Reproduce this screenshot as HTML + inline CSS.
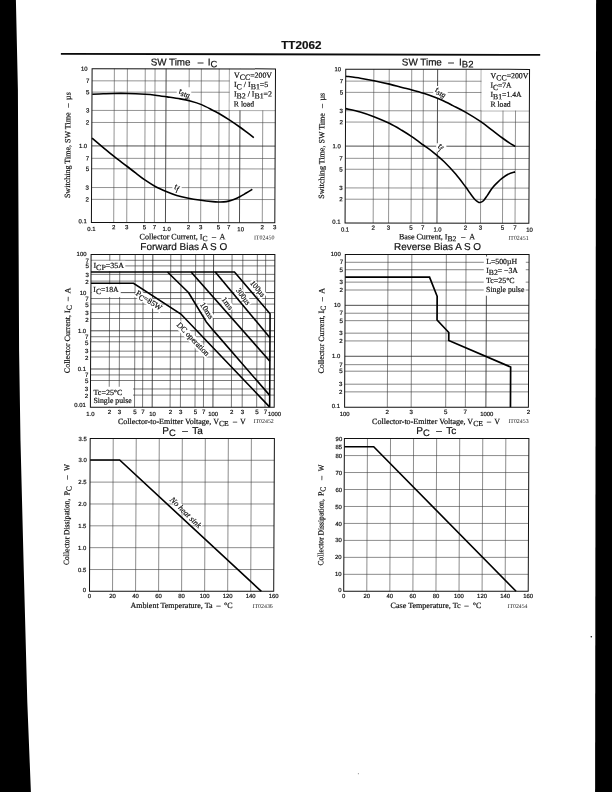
<!DOCTYPE html>
<html lang="en"><head><meta charset="utf-8"><title>TT2062</title>
<style>html,body{margin:0;padding:0;background:#fff}body{width:612px;height:792px;overflow:hidden}svg{display:block}text{fill:#111;white-space:pre}.a{font-family:'Liberation Sans', sans-serif;stroke:#111;stroke-width:.2px}.s{font-family:'Liberation Serif', serif;stroke:#111;stroke-width:.2px}.i{font-style:italic}.b{font-weight:bold}</style></head><body>
<svg width="612" height="792" viewBox="0 0 612 792">
<rect width="612" height="792" fill="#fff"/>
<polygon fill="#000" points="0,0 15.9,0 17.9,90 19.1,351 20.5,441 23.8,571 27.3,702 30.9,792 0,792"/>
<polygon fill="#000" points="596.1,0 612,0 612,792 595.1,792"/>
<circle cx="591.3" cy="636.7" r="0.8" fill="#111"/>
<circle cx="358.4" cy="773.7" r="0.6" fill="#999"/>
<text class="a" x="281.2" y="48.8" font-size="11.5" textLength="40.2" lengthAdjust="spacingAndGlyphs" font-weight="bold">TT2062</text>
<line x1="60.9" y1="53.9" x2="540.2" y2="54.9" stroke="#0a0a0a" stroke-width="1.9"/>
<g transform="matrix(1 0.00100 -0.00450 1 0.66 -0.18)">
<line x1="114.04" y1="68.8" x2="114.04" y2="222.6" stroke="#464646" stroke-width="0.58"/>
<line x1="127.07" y1="68.8" x2="127.07" y2="222.6" stroke="#464646" stroke-width="0.58"/>
<line x1="144.9" y1="68.8" x2="144.9" y2="222.6" stroke="#464646" stroke-width="0.58"/>
<line x1="154.72" y1="68.8" x2="154.72" y2="222.6" stroke="#464646" stroke-width="0.58"/>
<line x1="165.79" y1="68.8" x2="165.79" y2="222.6" stroke="#222" stroke-width="0.8"/>
<line x1="188.88" y1="68.8" x2="188.88" y2="222.6" stroke="#464646" stroke-width="0.58"/>
<line x1="201.01" y1="68.8" x2="201.01" y2="222.6" stroke="#464646" stroke-width="0.58"/>
<line x1="218.84" y1="68.8" x2="218.84" y2="222.6" stroke="#464646" stroke-width="0.58"/>
<line x1="229.06" y1="68.8" x2="229.06" y2="222.6" stroke="#464646" stroke-width="0.58"/>
<line x1="239.83" y1="68.8" x2="239.83" y2="222.6" stroke="#222" stroke-width="0.8"/>
<line x1="262.61" y1="68.8" x2="262.61" y2="222.6" stroke="#464646" stroke-width="0.58"/>
<line x1="91.75" y1="199.45" x2="275.15" y2="199.45" stroke="#464646" stroke-width="0.58"/>
<line x1="91.75" y1="187.61" x2="275.15" y2="187.61" stroke="#464646" stroke-width="0.58"/>
<line x1="91.75" y1="168.85" x2="275.15" y2="168.85" stroke="#464646" stroke-width="0.58"/>
<line x1="91.75" y1="158.41" x2="275.15" y2="158.41" stroke="#464646" stroke-width="0.58"/>
<line x1="91.75" y1="146" x2="275.15" y2="146" stroke="#222" stroke-width="0.8"/>
<line x1="91.75" y1="122.55" x2="275.15" y2="122.55" stroke="#464646" stroke-width="0.58"/>
<line x1="91.75" y1="110.51" x2="275.15" y2="110.51" stroke="#464646" stroke-width="0.58"/>
<line x1="91.75" y1="92.2" x2="275.15" y2="92.2" stroke="#464646" stroke-width="0.58"/>
<line x1="91.75" y1="80.91" x2="275.15" y2="80.91" stroke="#464646" stroke-width="0.58"/>
<rect x="229.46" y="68.8" width="45.69" height="41.31" fill="#fff"/>
<rect x="176.5" y="87.3" width="14.5" height="10.5" fill="#fff"/>
<rect x="172.6" y="182" width="9.3" height="9" fill="#fff"/>
<path d="M92 94.4 C93.83 94.32 99.37 94.05 103 93.9 C106.63 93.75 109.8 93.57 113.8 93.5 C117.8 93.43 121.8 93.37 127 93.5 C132.2 93.63 140.33 94.02 145 94.3 C149.67 94.58 151.33 94.77 155 95.2 C158.67 95.63 162.83 96.28 167 96.9 C171.17 97.52 176.17 98.22 180 98.9 C183.83 99.58 186.45 100.05 190 101 C193.55 101.95 197.47 103.03 201.3 104.6 C205.13 106.17 210.08 108.93 213 110.4 C215.92 111.87 216.17 111.87 218.8 113.4 C221.43 114.93 225.27 117.3 228.8 119.6 C232.33 121.9 236.97 125.07 240 127.2 C243.03 129.33 244.7 130.67 247 132.4 C249.3 134.13 252.67 136.73 253.8 137.6" fill="none" stroke="#000" stroke-width="1.6" stroke-linejoin="round" stroke-linecap="butt"/>
<path d="M92 138.2 C93.83 139.73 99.37 144.38 103 147.4 C106.63 150.42 109.8 153.15 113.8 156.3 C117.8 159.45 123.3 163.48 127 166.3 C130.7 169.12 133 170.92 136 173.2 C139 175.48 141.83 177.83 145 180 C148.17 182.17 151.33 184.25 155 186.2 C158.67 188.15 163.33 190.17 167 191.7 C170.67 193.23 173.58 194.35 177 195.4 C180.42 196.45 183.45 197.18 187.5 198 C191.55 198.82 197.05 199.7 201.3 200.3 C205.55 200.9 210.08 201.33 213 201.6 C215.92 201.87 216.97 201.87 218.8 201.9 C220.63 201.93 222.33 201.93 224 201.8 C225.67 201.67 227.13 201.5 228.8 201.1 C230.47 200.7 232.13 200.13 234 199.4 C235.87 198.67 238 197.73 240 196.7 C242 195.67 243.92 194.45 246 193.2 C248.08 191.95 251.42 189.87 252.5 189.2" fill="none" stroke="#000" stroke-width="1.6" stroke-linejoin="round" stroke-linecap="butt"/>
<rect x="91.75" y="68.8" width="183.4" height="153.8" fill="none" stroke="#111" stroke-width="1"/>
<text class="s" x="178.3" y="93.6" font-size="8.6" transform="rotate(12 178.3 93.6)" font-style="italic">t<tspan dy="1.8" font-size="7.6">stg</tspan></text>
<text class="s" x="174.2" y="189" font-size="8.6" transform="rotate(12 174.2 189)" font-style="italic">t<tspan dy="1.8" font-size="7.6">f</tspan></text>
<text class="s" x="233.7" y="77.6" font-size="7.8" textLength="38" lengthAdjust="spacingAndGlyphs">V<tspan dy="2.1">CC</tspan><tspan dy="-2.1">=200V</tspan></text>
<text class="s" x="233.7" y="87" font-size="7.8" textLength="34.3" lengthAdjust="spacingAndGlyphs">I<tspan dy="2.1">C</tspan><tspan dy="-2.1"> / I</tspan><tspan dy="2.1">B1</tspan><tspan dy="-2.1">=5</tspan></text>
<text class="s" x="233.7" y="96.4" font-size="7.8" textLength="38" lengthAdjust="spacingAndGlyphs">I<tspan dy="2.1">B2</tspan><tspan dy="-2.1"> / I</tspan><tspan dy="2.1">B1</tspan><tspan dy="-2.1">=2</tspan></text>
<text class="s" x="233.7" y="106.4" font-size="7.8" textLength="20.2" lengthAdjust="spacingAndGlyphs">R load</text>
<text class="a" x="87.15" y="223.41" font-size="5.9" text-anchor="end">0.1</text>
<text class="a" x="89.15" y="201.63" font-size="6.1" text-anchor="end">2</text>
<text class="a" x="89.15" y="189.79" font-size="6.1" text-anchor="end">3</text>
<text class="a" x="89.15" y="171.03" font-size="6.1" text-anchor="end">5</text>
<text class="a" x="89.15" y="160.6" font-size="6.1" text-anchor="end">7</text>
<text class="a" x="87.15" y="148.11" font-size="5.9" text-anchor="end">1.0</text>
<text class="a" x="89.15" y="124.73" font-size="6.1" text-anchor="end">2</text>
<text class="a" x="89.15" y="112.69" font-size="6.1" text-anchor="end">3</text>
<text class="a" x="89.15" y="94.38" font-size="6.1" text-anchor="end">5</text>
<text class="a" x="89.15" y="83.1" font-size="6.1" text-anchor="end">7</text>
<text class="a" x="87.15" y="70.91" font-size="5.9" text-anchor="end">10</text>
<text class="a" x="91.75" y="231.11" font-size="5.9" text-anchor="middle">0.1</text>
<text class="a" x="114.04" y="229.28" font-size="6.1" text-anchor="middle">2</text>
<text class="a" x="127.07" y="229.28" font-size="6.1" text-anchor="middle">3</text>
<text class="a" x="144.9" y="229.28" font-size="6.1" text-anchor="middle">5</text>
<text class="a" x="154.72" y="229.28" font-size="6.1" text-anchor="middle">7</text>
<text class="a" x="166.99" y="231.11" font-size="5.9" text-anchor="middle">1.0</text>
<text class="a" x="188.88" y="229.28" font-size="6.1" text-anchor="middle">2</text>
<text class="a" x="201.01" y="229.28" font-size="6.1" text-anchor="middle">3</text>
<text class="a" x="218.84" y="229.28" font-size="6.1" text-anchor="middle">5</text>
<text class="a" x="229.06" y="229.28" font-size="6.1" text-anchor="middle">7</text>
<text class="a" x="241.03" y="231.11" font-size="5.9" text-anchor="middle">10</text>
<text class="a" x="262.61" y="229.28" font-size="6.1" text-anchor="middle">2</text>
<text class="a" x="275.15" y="229.28" font-size="6.1" text-anchor="middle">3</text>
<text class="a" x="150.3" y="65.5" font-size="10" textLength="39.8" lengthAdjust="spacingAndGlyphs">SW Time</text>
<text class="a" x="197.3" y="65.5" font-size="10">–</text>
<text class="a" x="207.3" y="65.5" font-size="10">I<tspan dy="1.8" font-size="9.3">C</tspan></text>
<text class="s" x="140" y="239.2" font-size="8">Collector Current, I<tspan dy="1.7" font-size="7.6">C</tspan></text>
<text class="s" x="212.3" y="239.2" font-size="8">–</text>
<text class="s" x="219.8" y="239.2" font-size="8">A</text>
<text class="s" x="254.3" y="239.5" font-size="5.9" textLength="20.5" lengthAdjust="spacingAndGlyphs" style="stroke:none;fill:#1c1c1c">IT02450</text>
<g transform="rotate(-90 70.2 198.2)">
<text class="s" x="70.2" y="198.2" font-size="8" textLength="85.6" lengthAdjust="spacingAndGlyphs">Switching Time, SW Time</text>
<text class="s" x="160.9" y="198.2" font-size="8">–</text>
<text class="s" x="168.4" y="198.2" font-size="8">µs</text>
</g>
</g>
<g transform="matrix(1 0.00100 -0.00450 1 0.66 -0.44)">
<line x1="373.51" y1="69.3" x2="373.51" y2="223.1" stroke="#464646" stroke-width="0.58"/>
<line x1="388.9" y1="69.3" x2="388.9" y2="223.1" stroke="#464646" stroke-width="0.58"/>
<line x1="411.39" y1="69.3" x2="411.39" y2="223.1" stroke="#464646" stroke-width="0.58"/>
<line x1="423.06" y1="69.3" x2="423.06" y2="223.1" stroke="#464646" stroke-width="0.58"/>
<line x1="437.3" y1="69.3" x2="437.3" y2="223.1" stroke="#222" stroke-width="0.8"/>
<line x1="465.86" y1="69.3" x2="465.86" y2="223.1" stroke="#464646" stroke-width="0.58"/>
<line x1="480.85" y1="69.3" x2="480.85" y2="223.1" stroke="#464646" stroke-width="0.58"/>
<line x1="502.84" y1="69.3" x2="502.84" y2="223.1" stroke="#464646" stroke-width="0.58"/>
<line x1="515.36" y1="69.3" x2="515.36" y2="223.1" stroke="#464646" stroke-width="0.58"/>
<line x1="345.4" y1="199.3" x2="529.2" y2="199.3" stroke="#464646" stroke-width="0.58"/>
<line x1="345.4" y1="188.01" x2="529.2" y2="188.01" stroke="#464646" stroke-width="0.58"/>
<line x1="345.4" y1="169.35" x2="529.2" y2="169.35" stroke="#464646" stroke-width="0.58"/>
<line x1="345.4" y1="158.41" x2="529.2" y2="158.41" stroke="#464646" stroke-width="0.58"/>
<line x1="345.4" y1="146.2" x2="529.2" y2="146.2" stroke="#222" stroke-width="0.8"/>
<line x1="345.4" y1="122.15" x2="529.2" y2="122.15" stroke="#464646" stroke-width="0.58"/>
<line x1="345.4" y1="110.81" x2="529.2" y2="110.81" stroke="#464646" stroke-width="0.58"/>
<line x1="345.4" y1="92.45" x2="529.2" y2="92.45" stroke="#464646" stroke-width="0.58"/>
<line x1="345.4" y1="81.21" x2="529.2" y2="81.21" stroke="#464646" stroke-width="0.58"/>
<rect x="481.25" y="69.3" width="47.95" height="41.11" fill="#fff"/>
<rect x="433" y="86" width="14.5" height="13" fill="#fff"/>
<rect x="436.2" y="143.2" width="10.2" height="8.5" fill="#fff"/>
<path d="M345.6 76.3 C348 76.63 355.3 77.55 360 78.3 C364.7 79.05 368.93 79.82 373.8 80.8 C378.67 81.78 384.55 83.08 389.2 84.2 C393.85 85.32 397.95 86.53 401.7 87.5 C405.45 88.47 408.1 89.03 411.7 90 C415.3 90.97 419.7 92.17 423.3 93.3 C426.9 94.43 430.18 95.63 433.3 96.8 C436.42 97.97 438.77 98.83 442 100.3 C445.23 101.77 448.75 103.6 452.7 105.6 C456.65 107.6 461.03 109.63 465.7 112.3 C470.37 114.97 476.2 118.55 480.7 121.6 C485.2 124.65 489.03 127.83 492.7 130.6 C496.37 133.37 499.93 136.17 502.7 138.2 C505.47 140.23 507.22 141.45 509.3 142.8 C511.38 144.15 514.22 145.72 515.2 146.3" fill="none" stroke="#000" stroke-width="1.6" stroke-linejoin="round" stroke-linecap="butt"/>
<path d="M345.6 108.7 C348 109.25 355.3 110.67 360 112 C364.7 113.33 368.93 114.82 373.8 116.7 C378.67 118.58 384.55 121.03 389.2 123.3 C393.85 125.57 397.95 128.07 401.7 130.3 C405.45 132.53 408.1 134.25 411.7 136.7 C415.3 139.15 419.7 142.4 423.3 145 C426.9 147.6 429.85 149.55 433.3 152.3 C436.75 155.05 440.22 157.83 444 161.5 C447.78 165.17 452.38 170.08 456 174.3 C459.62 178.52 463.37 183.72 465.7 186.8 C468.03 189.88 468.47 190.73 470 192.8 C471.53 194.87 473.6 197.73 474.9 199.2 C476.2 200.67 476.9 201.05 477.8 201.6 C478.7 202.15 479.32 202.65 480.3 202.5 C481.28 202.35 482.48 201.9 483.7 200.7 C484.92 199.5 486.13 197.43 487.6 195.3 C489.07 193.17 490.85 190.03 492.5 187.9 C494.15 185.77 495.85 184.13 497.5 182.5 C499.15 180.87 500.62 179.48 502.4 178.1 C504.18 176.72 506.07 175.25 508.2 174.2 C510.33 173.15 514.03 172.2 515.2 171.8" fill="none" stroke="#000" stroke-width="1.6" stroke-linejoin="round" stroke-linecap="butt"/>
<rect x="345.4" y="69.3" width="183.8" height="153.8" fill="none" stroke="#111" stroke-width="1"/>
<text class="s" x="434.6" y="91.6" font-size="8.6" transform="rotate(24 434.6 91.6)" font-style="italic">t<tspan dy="1.8" font-size="7.6">stg</tspan></text>
<text class="s" x="437.6" y="147.6" font-size="8.6" transform="rotate(30 437.6 147.6)" font-style="italic">t<tspan dy="1.8" font-size="7.6">f</tspan></text>
<text class="s" x="490.3" y="78.1" font-size="7.8" textLength="37.8" lengthAdjust="spacingAndGlyphs">V<tspan dy="2.1">CC</tspan><tspan dy="-2.1">=200V</tspan></text>
<text class="s" x="490.3" y="87.8" font-size="7.8" textLength="21" lengthAdjust="spacingAndGlyphs">I<tspan dy="2.1">C</tspan><tspan dy="-2.1">=7A</tspan></text>
<text class="s" x="490.3" y="97" font-size="7.8" textLength="31" lengthAdjust="spacingAndGlyphs">I<tspan dy="2.1">B1</tspan><tspan dy="-2.1">=1.4A</tspan></text>
<text class="s" x="490.3" y="106.7" font-size="7.8" textLength="20.2" lengthAdjust="spacingAndGlyphs">R load</text>
<text class="a" x="340.8" y="223.91" font-size="5.9" text-anchor="end">0.1</text>
<text class="a" x="342.8" y="201.48" font-size="6.1" text-anchor="end">2</text>
<text class="a" x="342.8" y="190.19" font-size="6.1" text-anchor="end">3</text>
<text class="a" x="342.8" y="171.53" font-size="6.1" text-anchor="end">5</text>
<text class="a" x="342.8" y="160.6" font-size="6.1" text-anchor="end">7</text>
<text class="a" x="340.8" y="148.31" font-size="5.9" text-anchor="end">1.0</text>
<text class="a" x="342.8" y="124.33" font-size="6.1" text-anchor="end">2</text>
<text class="a" x="342.8" y="112.99" font-size="6.1" text-anchor="end">3</text>
<text class="a" x="342.8" y="94.63" font-size="6.1" text-anchor="end">5</text>
<text class="a" x="342.8" y="83.4" font-size="6.1" text-anchor="end">7</text>
<text class="a" x="340.8" y="71.41" font-size="5.9" text-anchor="end">10</text>
<text class="a" x="345.4" y="231.61" font-size="5.9" text-anchor="middle">0.1</text>
<text class="a" x="373.51" y="229.78" font-size="6.1" text-anchor="middle">2</text>
<text class="a" x="388.9" y="229.78" font-size="6.1" text-anchor="middle">3</text>
<text class="a" x="411.39" y="229.78" font-size="6.1" text-anchor="middle">5</text>
<text class="a" x="423.06" y="229.78" font-size="6.1" text-anchor="middle">7</text>
<text class="a" x="437.9" y="231.61" font-size="5.9" text-anchor="middle">1.0</text>
<text class="a" x="465.86" y="229.78" font-size="6.1" text-anchor="middle">2</text>
<text class="a" x="480.85" y="229.78" font-size="6.1" text-anchor="middle">3</text>
<text class="a" x="502.84" y="229.78" font-size="6.1" text-anchor="middle">5</text>
<text class="a" x="515.36" y="229.78" font-size="6.1" text-anchor="middle">7</text>
<text class="a" x="529.8" y="231.61" font-size="5.9" text-anchor="middle">10</text>
<text class="a" x="401.5" y="65.5" font-size="10" textLength="40" lengthAdjust="spacingAndGlyphs">SW Time</text>
<text class="a" x="448" y="65.5" font-size="10">–</text>
<text class="a" x="458.7" y="65.5" font-size="10">I<tspan dy="2" font-size="9.5">B2</tspan></text>
<text class="s" x="399.3" y="239.2" font-size="8">Base Current, I<tspan dy="2" font-size="7.6">B2</tspan></text>
<text class="s" x="461.6" y="239.2" font-size="8">–</text>
<text class="s" x="469.6" y="239.2" font-size="8">A</text>
<text class="s" x="508.8" y="239.8" font-size="5.9" textLength="20.2" lengthAdjust="spacingAndGlyphs" style="stroke:none;fill:#1c1c1c">IT02451</text>
<g transform="rotate(-90 324.3 198.8)">
<text class="s" x="324.3" y="198.8" font-size="8" textLength="85.6" lengthAdjust="spacingAndGlyphs">Switching Time, SW Time</text>
<text class="s" x="415" y="198.8" font-size="8">–</text>
<text class="s" x="422.5" y="198.8" font-size="8">µs</text>
</g>
</g>
<g transform="matrix(1 0.00000 -0.00450 1 1.49 -0)">
<line x1="109.48" y1="254.4" x2="109.48" y2="407.2" stroke="#303030" stroke-width="0.64"/>
<line x1="119.47" y1="254.4" x2="119.47" y2="407.2" stroke="#303030" stroke-width="0.64"/>
<line x1="134.86" y1="254.4" x2="134.86" y2="407.2" stroke="#303030" stroke-width="0.64"/>
<line x1="142.92" y1="254.4" x2="142.92" y2="407.2" stroke="#303030" stroke-width="0.64"/>
<line x1="152.51" y1="254.4" x2="152.51" y2="407.2" stroke="#222" stroke-width="0.8"/>
<line x1="170.45" y1="254.4" x2="170.45" y2="407.2" stroke="#303030" stroke-width="0.64"/>
<line x1="180.74" y1="254.4" x2="180.74" y2="407.2" stroke="#303030" stroke-width="0.64"/>
<line x1="195.33" y1="254.4" x2="195.33" y2="407.2" stroke="#303030" stroke-width="0.64"/>
<line x1="203.78" y1="254.4" x2="203.78" y2="407.2" stroke="#303030" stroke-width="0.64"/>
<line x1="213.27" y1="254.4" x2="213.27" y2="407.2" stroke="#222" stroke-width="0.8"/>
<line x1="231.72" y1="254.4" x2="231.72" y2="407.2" stroke="#303030" stroke-width="0.64"/>
<line x1="242.5" y1="254.4" x2="242.5" y2="407.2" stroke="#303030" stroke-width="0.64"/>
<line x1="257" y1="254.4" x2="257" y2="407.2" stroke="#303030" stroke-width="0.64"/>
<line x1="265.35" y1="254.4" x2="265.35" y2="407.2" stroke="#303030" stroke-width="0.64"/>
<line x1="90.74" y1="395.1" x2="274.54" y2="395.1" stroke="#303030" stroke-width="0.64"/>
<line x1="90.74" y1="388.97" x2="274.54" y2="388.97" stroke="#303030" stroke-width="0.64"/>
<line x1="90.74" y1="380.5" x2="274.54" y2="380.5" stroke="#303030" stroke-width="0.64"/>
<line x1="90.74" y1="374.92" x2="274.54" y2="374.92" stroke="#303030" stroke-width="0.64"/>
<line x1="90.74" y1="369" x2="274.54" y2="369" stroke="#222" stroke-width="0.8"/>
<line x1="90.74" y1="357" x2="274.54" y2="357" stroke="#303030" stroke-width="0.64"/>
<line x1="90.74" y1="351.17" x2="274.54" y2="351.17" stroke="#303030" stroke-width="0.64"/>
<line x1="90.74" y1="341.8" x2="274.54" y2="341.8" stroke="#303030" stroke-width="0.64"/>
<line x1="90.74" y1="336.72" x2="274.54" y2="336.72" stroke="#303030" stroke-width="0.64"/>
<line x1="90.74" y1="330.8" x2="274.54" y2="330.8" stroke="#222" stroke-width="0.8"/>
<line x1="90.74" y1="318.5" x2="274.54" y2="318.5" stroke="#303030" stroke-width="0.64"/>
<line x1="90.74" y1="312.57" x2="274.54" y2="312.57" stroke="#303030" stroke-width="0.64"/>
<line x1="90.74" y1="304.1" x2="274.54" y2="304.1" stroke="#303030" stroke-width="0.64"/>
<line x1="90.74" y1="298.52" x2="274.54" y2="298.52" stroke="#303030" stroke-width="0.64"/>
<line x1="90.74" y1="292.6" x2="274.54" y2="292.6" stroke="#222" stroke-width="0.8"/>
<line x1="90.74" y1="281.1" x2="274.54" y2="281.1" stroke="#303030" stroke-width="0.64"/>
<line x1="90.74" y1="274.37" x2="274.54" y2="274.37" stroke="#303030" stroke-width="0.64"/>
<line x1="90.74" y1="265.9" x2="274.54" y2="265.9" stroke="#303030" stroke-width="0.64"/>
<line x1="90.74" y1="260.32" x2="274.54" y2="260.32" stroke="#303030" stroke-width="0.64"/>
<rect x="91.24" y="260.82" width="33.76" height="10.18" fill="#fff"/>
<rect x="91.24" y="284.3" width="29.36" height="12.6" fill="#fff"/>
<rect x="91.24" y="386.8" width="42.06" height="19.9" fill="#fff"/>
<rect x="134.2" y="288.4" width="31.6" height="8.4" fill="#fff" transform="rotate(33 135 294.6)"/>
<rect x="175.4" y="319" width="45.4" height="8.4" fill="#fff" transform="rotate(46 176.2 325.2)"/>
<rect x="198.8" y="298.2" width="19.8" height="8.4" fill="#fff" transform="rotate(57 199.6 304.4)"/>
<rect x="220.2" y="293.4" width="15.4" height="8.4" fill="#fff" transform="rotate(53 221 299.6)"/>
<rect x="234.8" y="284.4" width="20.4" height="8.4" fill="#fff" transform="rotate(54 235.6 290.6)"/>
<rect x="248.8" y="277" width="20.4" height="8.4" fill="#fff" transform="rotate(50 249.6 283.2)"/>
<path d="M90.74 272 L234.2 272 L270 313.7 L270 407.2" fill="none" stroke="#000" stroke-width="1.6" stroke-linejoin="miter" stroke-linecap="butt"/>
<path d="M215 272 L270 337.8" fill="none" stroke="#000" stroke-width="1.6" stroke-linejoin="round" stroke-linecap="butt"/>
<path d="M190.8 272 L270 361.2" fill="none" stroke="#000" stroke-width="1.6" stroke-linejoin="round" stroke-linecap="butt"/>
<path d="M167.2 272 L188.3 292.5 L206.1 321.7 L213.3 330.4 L270 395.4" fill="none" stroke="#000" stroke-width="1.6" stroke-linejoin="round" stroke-linecap="butt"/>
<path d="M90.74 283.3 L133.3 283.3 L180.8 314 L269.6 406.6" fill="none" stroke="#000" stroke-width="1.6" stroke-linejoin="miter" stroke-linecap="butt"/>
<rect x="90.74" y="254.4" width="183.8" height="152.8" fill="none" stroke="#111" stroke-width="1"/>
<text class="s" x="135" y="294.6" font-size="8" textLength="29.5" lengthAdjust="spacingAndGlyphs" transform="rotate(33 135 294.6)">P<tspan dy="1.8" font-size="7.6">C</tspan><tspan dy="-1.8">=85W</tspan></text>
<text class="s" x="176.2" y="325.2" font-size="8" textLength="43.5" lengthAdjust="spacingAndGlyphs" transform="rotate(46 176.2 325.2)">DC operation</text>
<text class="s" x="199.6" y="304.4" font-size="8" textLength="18.2" lengthAdjust="spacingAndGlyphs" transform="rotate(57 199.6 304.4)">10ms</text>
<text class="s" x="221" y="299.6" font-size="8" textLength="13.6" lengthAdjust="spacingAndGlyphs" transform="rotate(53 221 299.6)">1ms</text>
<text class="s" x="235.6" y="290.6" font-size="8" textLength="18.6" lengthAdjust="spacingAndGlyphs" transform="rotate(54 235.6 290.6)">300µs</text>
<text class="s" x="249.6" y="283.2" font-size="8" textLength="18.6" lengthAdjust="spacingAndGlyphs" transform="rotate(50 249.6 283.2)">100µs</text>
<text class="s" x="93.2" y="267.7" font-size="7.8" textLength="30.4" lengthAdjust="spacingAndGlyphs">I<tspan dy="2" font-size="7.8">CP</tspan><tspan dy="-2">=35A</tspan></text>
<text class="s" x="93.2" y="292.1" font-size="7.8" textLength="25.2" lengthAdjust="spacingAndGlyphs">I<tspan dy="2" font-size="7.8">C</tspan><tspan dy="-2">=18A</tspan></text>
<text class="s" x="93.8" y="394.6" font-size="7.8" textLength="28.9" lengthAdjust="spacingAndGlyphs">Tc=25°C</text>
<text class="s" x="93.8" y="403.3" font-size="7.8" textLength="38.2" lengthAdjust="spacingAndGlyphs">Single pulse</text>
<text class="a" x="86.14" y="407.31" font-size="5.9" text-anchor="end">0.01</text>
<text class="a" x="88.54" y="398.18" font-size="6.1" text-anchor="end">2</text>
<text class="a" x="88.54" y="391.46" font-size="6.1" text-anchor="end">3</text>
<text class="a" x="88.54" y="382.98" font-size="6.1" text-anchor="end">5</text>
<text class="a" x="88.54" y="377.4" font-size="6.1" text-anchor="end">7</text>
<text class="a" x="86.14" y="371.11" font-size="5.9" text-anchor="end">0.1</text>
<text class="a" x="88.54" y="359.98" font-size="6.1" text-anchor="end">2</text>
<text class="a" x="88.54" y="353.26" font-size="6.1" text-anchor="end">3</text>
<text class="a" x="88.54" y="344.78" font-size="6.1" text-anchor="end">5</text>
<text class="a" x="88.54" y="339.2" font-size="6.1" text-anchor="end">7</text>
<text class="a" x="86.14" y="332.91" font-size="5.9" text-anchor="end">1.0</text>
<text class="a" x="88.54" y="321.78" font-size="6.1" text-anchor="end">2</text>
<text class="a" x="88.54" y="315.06" font-size="6.1" text-anchor="end">3</text>
<text class="a" x="88.54" y="306.58" font-size="6.1" text-anchor="end">5</text>
<text class="a" x="88.54" y="301" font-size="6.1" text-anchor="end">7</text>
<text class="a" x="86.14" y="294.71" font-size="5.9" text-anchor="end">10</text>
<text class="a" x="88.54" y="283.58" font-size="6.1" text-anchor="end">2</text>
<text class="a" x="88.54" y="276.86" font-size="6.1" text-anchor="end">3</text>
<text class="a" x="88.54" y="268.38" font-size="6.1" text-anchor="end">5</text>
<text class="a" x="88.54" y="262.8" font-size="6.1" text-anchor="end">7</text>
<text class="a" x="86.14" y="256.51" font-size="5.9" text-anchor="end">100</text>
<text class="a" x="90.74" y="416.11" font-size="5.9" text-anchor="middle">1.0</text>
<text class="a" x="109.88" y="413.58" font-size="6.1" text-anchor="middle">2</text>
<text class="a" x="119.87" y="413.58" font-size="6.1" text-anchor="middle">3</text>
<text class="a" x="135.26" y="413.58" font-size="6.1" text-anchor="middle">5</text>
<text class="a" x="143.32" y="413.58" font-size="6.1" text-anchor="middle">7</text>
<text class="a" x="152.81" y="416.11" font-size="5.9" text-anchor="middle">10</text>
<text class="a" x="170.85" y="413.58" font-size="6.1" text-anchor="middle">2</text>
<text class="a" x="181.14" y="413.58" font-size="6.1" text-anchor="middle">3</text>
<text class="a" x="195.73" y="413.58" font-size="6.1" text-anchor="middle">5</text>
<text class="a" x="204.18" y="413.58" font-size="6.1" text-anchor="middle">7</text>
<text class="a" x="213.57" y="416.11" font-size="5.9" text-anchor="middle">100</text>
<text class="a" x="232.12" y="413.58" font-size="6.1" text-anchor="middle">2</text>
<text class="a" x="242.9" y="413.58" font-size="6.1" text-anchor="middle">3</text>
<text class="a" x="257.4" y="413.58" font-size="6.1" text-anchor="middle">5</text>
<text class="a" x="265.75" y="413.58" font-size="6.1" text-anchor="middle">7</text>
<text class="a" x="274.84" y="416.11" font-size="5.9" text-anchor="middle">1000</text>
<text class="a" x="140" y="250" font-size="10" textLength="86.8" lengthAdjust="spacingAndGlyphs">Forward Bias A S O</text>
<text class="s" x="118.3" y="423.6" font-size="8" textLength="110.8" lengthAdjust="spacingAndGlyphs">Collector-to-Emitter Voltage, V<tspan dy="2" font-size="7.6">CE</tspan></text>
<text class="s" x="233.3" y="423.6" font-size="8">–</text>
<text class="s" x="240.5" y="423.6" font-size="8">V</text>
<text class="s" x="254" y="423.5" font-size="5.9" textLength="20.2" lengthAdjust="spacingAndGlyphs" style="stroke:none;fill:#1c1c1c">IT02452</text>
<g transform="rotate(-90 70 373.2)">
<text class="s" x="70" y="373.2" font-size="8">Collector Current, I<tspan dy="1.7" font-size="7.6">C</tspan></text>
<text class="s" x="142.3" y="373.2" font-size="8">–</text>
<text class="s" x="149.8" y="373.2" font-size="8">A</text>
</g>
</g>
<g transform="matrix(1 0.00000 -0.00450 1 1.49 -0)">
<line x1="387.68" y1="254.4" x2="387.68" y2="407.2" stroke="#383838" stroke-width="0.6"/>
<line x1="411.5" y1="254.4" x2="411.5" y2="407.2" stroke="#383838" stroke-width="0.6"/>
<line x1="446" y1="254.4" x2="446" y2="407.2" stroke="#383838" stroke-width="0.6"/>
<line x1="465.69" y1="254.4" x2="465.69" y2="407.2" stroke="#383838" stroke-width="0.6"/>
<line x1="486.22" y1="254.4" x2="486.22" y2="407.2" stroke="#222" stroke-width="0.8"/>
<line x1="344.95" y1="391.87" x2="528.75" y2="391.87" stroke="#383838" stroke-width="0.6"/>
<line x1="344.95" y1="384.2" x2="528.75" y2="384.2" stroke="#383838" stroke-width="0.6"/>
<line x1="344.95" y1="371.2" x2="528.75" y2="371.2" stroke="#383838" stroke-width="0.6"/>
<line x1="344.95" y1="364.66" x2="528.75" y2="364.66" stroke="#383838" stroke-width="0.6"/>
<line x1="344.95" y1="356.27" x2="528.75" y2="356.27" stroke="#222" stroke-width="0.8"/>
<line x1="344.95" y1="340.93" x2="528.75" y2="340.93" stroke="#383838" stroke-width="0.6"/>
<line x1="344.95" y1="333.17" x2="528.75" y2="333.17" stroke="#383838" stroke-width="0.6"/>
<line x1="344.95" y1="320.67" x2="528.75" y2="320.67" stroke="#383838" stroke-width="0.6"/>
<line x1="344.95" y1="313.22" x2="528.75" y2="313.22" stroke="#383838" stroke-width="0.6"/>
<line x1="344.95" y1="305.33" x2="528.75" y2="305.33" stroke="#222" stroke-width="0.8"/>
<line x1="344.95" y1="290" x2="528.75" y2="290" stroke="#383838" stroke-width="0.6"/>
<line x1="344.95" y1="282.13" x2="528.75" y2="282.13" stroke="#383838" stroke-width="0.6"/>
<line x1="344.95" y1="269.73" x2="528.75" y2="269.73" stroke="#383838" stroke-width="0.6"/>
<line x1="344.95" y1="262.29" x2="528.75" y2="262.29" stroke="#383838" stroke-width="0.6"/>
<rect x="483.5" y="256.4" width="42" height="39.3" fill="#fff"/>
<path d="M344.95 277.2 L429.3 277.2 L437 296.3 L437 320 L448.8 332.5 L448.8 340.5 L510.8 367 L510.8 407.2" fill="none" stroke="#000" stroke-width="1.7" stroke-linejoin="miter" stroke-linecap="butt"/>
<rect x="344.95" y="254.4" width="183.8" height="152.8" fill="none" stroke="#111" stroke-width="1"/>
<text class="s" x="485.9" y="264.1" font-size="7.8" textLength="30.8" lengthAdjust="spacingAndGlyphs">L=500µH</text>
<text class="s" x="485.9" y="273.3" font-size="7.8" textLength="31.7" lengthAdjust="spacingAndGlyphs">I<tspan dy="2.2" font-size="7.8">B2</tspan><tspan dy="-2.2">= −3A</tspan></text>
<text class="s" x="485.9" y="282.7" font-size="7.8" textLength="28.5" lengthAdjust="spacingAndGlyphs">Tc=25°C</text>
<text class="s" x="485.9" y="292.4" font-size="7.8" textLength="38.3" lengthAdjust="spacingAndGlyphs">Single pulse</text>
<text class="a" x="340.35" y="408.01" font-size="5.9" text-anchor="end">0.1</text>
<text class="a" x="342.75" y="394.05" font-size="6.1" text-anchor="end">2</text>
<text class="a" x="342.75" y="386.38" font-size="6.1" text-anchor="end">3</text>
<text class="a" x="342.75" y="373.38" font-size="6.1" text-anchor="end">5</text>
<text class="a" x="342.75" y="366.84" font-size="6.1" text-anchor="end">7</text>
<text class="a" x="340.35" y="358.38" font-size="5.9" text-anchor="end">1.0</text>
<text class="a" x="342.75" y="343.12" font-size="6.1" text-anchor="end">2</text>
<text class="a" x="342.75" y="335.35" font-size="6.1" text-anchor="end">3</text>
<text class="a" x="342.75" y="322.85" font-size="6.1" text-anchor="end">5</text>
<text class="a" x="342.75" y="315.41" font-size="6.1" text-anchor="end">7</text>
<text class="a" x="340.35" y="307.45" font-size="5.9" text-anchor="end">10</text>
<text class="a" x="342.75" y="292.18" font-size="6.1" text-anchor="end">2</text>
<text class="a" x="342.75" y="284.32" font-size="6.1" text-anchor="end">3</text>
<text class="a" x="342.75" y="271.92" font-size="6.1" text-anchor="end">5</text>
<text class="a" x="342.75" y="264.47" font-size="6.1" text-anchor="end">7</text>
<text class="a" x="340.35" y="256.51" font-size="5.9" text-anchor="end">100</text>
<text class="a" x="344.95" y="416.11" font-size="5.9" text-anchor="middle">100</text>
<text class="a" x="387.68" y="413.78" font-size="6.1" text-anchor="middle">2</text>
<text class="a" x="411.5" y="413.78" font-size="6.1" text-anchor="middle">3</text>
<text class="a" x="446" y="413.78" font-size="6.1" text-anchor="middle">5</text>
<text class="a" x="465.69" y="413.78" font-size="6.1" text-anchor="middle">7</text>
<text class="a" x="487.22" y="416.11" font-size="5.9" text-anchor="middle">1000</text>
<text class="a" x="528.75" y="413.78" font-size="6.1" text-anchor="middle">2</text>
<text class="a" x="393.7" y="250" font-size="10" textLength="87" lengthAdjust="spacingAndGlyphs">Reverse Bias A S O</text>
<text class="s" x="372.5" y="423.6" font-size="8" textLength="110.8" lengthAdjust="spacingAndGlyphs">Collector-to-Emitter Voltage, V<tspan dy="2" font-size="7.6">CE</tspan></text>
<text class="s" x="487.5" y="423.6" font-size="8">–</text>
<text class="s" x="494.7" y="423.6" font-size="8">V</text>
<text class="s" x="508.8" y="423.5" font-size="5.9" textLength="20.2" lengthAdjust="spacingAndGlyphs" style="stroke:none;fill:#1c1c1c">IT02453</text>
<g transform="rotate(-90 324 373.6)">
<text class="s" x="324" y="373.6" font-size="8">Collector Current, I<tspan dy="1.7" font-size="7.6">C</tspan></text>
<text class="s" x="396.3" y="373.6" font-size="8">–</text>
<text class="s" x="403.8" y="373.6" font-size="8">A</text>
</g>
</g>
<g transform="matrix(1 0.00000 -0.00450 1 2.32 -0)">
<line x1="112.88" y1="438.42" x2="112.88" y2="591.38" stroke="#404040" stroke-width="0.6"/>
<line x1="135.9" y1="438.42" x2="135.9" y2="591.38" stroke="#404040" stroke-width="0.6"/>
<line x1="158.93" y1="438.42" x2="158.93" y2="591.38" stroke="#404040" stroke-width="0.6"/>
<line x1="181.95" y1="438.42" x2="181.95" y2="591.38" stroke="#404040" stroke-width="0.6"/>
<line x1="204.97" y1="438.42" x2="204.97" y2="591.38" stroke="#404040" stroke-width="0.6"/>
<line x1="228" y1="438.42" x2="228" y2="591.38" stroke="#404040" stroke-width="0.6"/>
<line x1="251.03" y1="438.42" x2="251.03" y2="591.38" stroke="#404040" stroke-width="0.6"/>
<line x1="89.85" y1="569.52" x2="274.05" y2="569.52" stroke="#404040" stroke-width="0.6"/>
<line x1="89.85" y1="547.67" x2="274.05" y2="547.67" stroke="#404040" stroke-width="0.6"/>
<line x1="89.85" y1="525.82" x2="274.05" y2="525.82" stroke="#404040" stroke-width="0.6"/>
<line x1="89.85" y1="503.97" x2="274.05" y2="503.97" stroke="#404040" stroke-width="0.6"/>
<line x1="89.85" y1="482.12" x2="274.05" y2="482.12" stroke="#404040" stroke-width="0.6"/>
<line x1="89.85" y1="460.27" x2="274.05" y2="460.27" stroke="#404040" stroke-width="0.6"/>
<rect x="168.9" y="494.3" width="41.7" height="6.2" fill="#fff" transform="rotate(44.5 169.5 500.3)"/>
<path d="M89.85 460 L119.4 460 L261.7 591.38" fill="none" stroke="#000" stroke-width="1.6" stroke-linejoin="miter" stroke-linecap="butt"/>
<rect x="89.85" y="438.42" width="184.2" height="152.95" fill="none" stroke="#111" stroke-width="1"/>
<text class="s" x="169.5" y="500.3" font-size="8" textLength="40.3" lengthAdjust="spacingAndGlyphs" transform="rotate(44.5 169.5 500.3)" font-style="italic">No heat sink</text>
<text class="a" x="86.45" y="591.89" font-size="5.9" text-anchor="end">0</text>
<text class="a" x="86.45" y="571.64" font-size="5.9" text-anchor="end">0.5</text>
<text class="a" x="86.45" y="549.79" font-size="5.9" text-anchor="end">1.0</text>
<text class="a" x="86.45" y="527.94" font-size="5.9" text-anchor="end">1.5</text>
<text class="a" x="86.45" y="506.09" font-size="5.9" text-anchor="end">2.0</text>
<text class="a" x="86.45" y="484.24" font-size="5.9" text-anchor="end">2.5</text>
<text class="a" x="86.45" y="462.39" font-size="5.9" text-anchor="end">3.0</text>
<text class="a" x="86.45" y="440.54" font-size="5.9" text-anchor="end">3.5</text>
<text class="a" x="89.85" y="598.49" font-size="5.9" text-anchor="middle">0</text>
<text class="a" x="112.88" y="598.49" font-size="5.9" text-anchor="middle">20</text>
<text class="a" x="135.9" y="598.49" font-size="5.9" text-anchor="middle">40</text>
<text class="a" x="158.93" y="598.49" font-size="5.9" text-anchor="middle">60</text>
<text class="a" x="181.95" y="598.49" font-size="5.9" text-anchor="middle">80</text>
<text class="a" x="204.97" y="598.49" font-size="5.9" text-anchor="middle">100</text>
<text class="a" x="228" y="598.49" font-size="5.9" text-anchor="middle">120</text>
<text class="a" x="251.03" y="598.49" font-size="5.9" text-anchor="middle">140</text>
<text class="a" x="274.05" y="598.49" font-size="5.9" text-anchor="middle">160</text>
<text class="a" x="162" y="434" font-size="10">P<tspan dy="1.8" font-size="9.3">C</tspan></text>
<text class="a" x="181.8" y="434" font-size="10">–</text>
<text class="a" x="192" y="434" font-size="10">Ta</text>
<text class="s" x="131" y="607.6" font-size="8" textLength="82" lengthAdjust="spacingAndGlyphs">Ambient Temperature, Ta</text>
<text class="s" x="217" y="607.6" font-size="8">–</text>
<text class="s" x="224.4" y="607.6" font-size="8">°C</text>
<text class="s" x="253" y="607.8" font-size="5.9" textLength="20.2" lengthAdjust="spacingAndGlyphs" style="stroke:none;fill:#1c1c1c">IT02436</text>
<g transform="rotate(-90 69.3 565)">
<text class="s" x="69.3" y="565" font-size="8" textLength="66.4" lengthAdjust="spacingAndGlyphs">Collector Dissipation,</text>
<text class="s" x="138.7" y="565" font-size="8">P<tspan dy="2" font-size="7.6">C</tspan></text>
<text class="s" x="154.9" y="565" font-size="8">–</text>
<text class="s" x="163.5" y="565" font-size="8" textLength="6.6" lengthAdjust="spacingAndGlyphs">W</text>
</g>
</g>
<g transform="matrix(1 0.00000 -0.00450 1 2.32 -0)">
<line x1="367.11" y1="438.6" x2="367.11" y2="591.3" stroke="#404040" stroke-width="0.6"/>
<line x1="390.18" y1="438.6" x2="390.18" y2="591.3" stroke="#404040" stroke-width="0.6"/>
<line x1="413.24" y1="438.6" x2="413.24" y2="591.3" stroke="#404040" stroke-width="0.6"/>
<line x1="436.3" y1="438.6" x2="436.3" y2="591.3" stroke="#404040" stroke-width="0.6"/>
<line x1="459.36" y1="438.6" x2="459.36" y2="591.3" stroke="#404040" stroke-width="0.6"/>
<line x1="482.43" y1="438.6" x2="482.43" y2="591.3" stroke="#404040" stroke-width="0.6"/>
<line x1="505.49" y1="438.6" x2="505.49" y2="591.3" stroke="#404040" stroke-width="0.6"/>
<line x1="344.05" y1="574.33" x2="528.55" y2="574.33" stroke="#404040" stroke-width="0.6"/>
<line x1="344.05" y1="557.37" x2="528.55" y2="557.37" stroke="#404040" stroke-width="0.6"/>
<line x1="344.05" y1="540.4" x2="528.55" y2="540.4" stroke="#404040" stroke-width="0.6"/>
<line x1="344.05" y1="523.43" x2="528.55" y2="523.43" stroke="#404040" stroke-width="0.6"/>
<line x1="344.05" y1="506.47" x2="528.55" y2="506.47" stroke="#404040" stroke-width="0.6"/>
<line x1="344.05" y1="489.5" x2="528.55" y2="489.5" stroke="#404040" stroke-width="0.6"/>
<line x1="344.05" y1="472.53" x2="528.55" y2="472.53" stroke="#404040" stroke-width="0.6"/>
<line x1="344.05" y1="455.57" x2="528.55" y2="455.57" stroke="#404040" stroke-width="0.6"/>
<path d="M344.05 446.7 L373.4 446.7 L516.4 591.3" fill="none" stroke="#000" stroke-width="1.6" stroke-linejoin="miter" stroke-linecap="butt"/>
<rect x="344.05" y="438.6" width="184.5" height="152.7" fill="none" stroke="#111" stroke-width="1"/>
<text class="a" x="341.85" y="591.81" font-size="5.9" text-anchor="end">0</text>
<text class="a" x="341.85" y="576.45" font-size="5.9" text-anchor="end">10</text>
<text class="a" x="341.85" y="559.48" font-size="5.9" text-anchor="end">20</text>
<text class="a" x="341.85" y="542.51" font-size="5.9" text-anchor="end">30</text>
<text class="a" x="341.85" y="525.55" font-size="5.9" text-anchor="end">40</text>
<text class="a" x="341.85" y="508.58" font-size="5.9" text-anchor="end">50</text>
<text class="a" x="341.85" y="491.61" font-size="5.9" text-anchor="end">60</text>
<text class="a" x="341.85" y="474.65" font-size="5.9" text-anchor="end">70</text>
<text class="a" x="341.85" y="457.68" font-size="5.9" text-anchor="end">80</text>
<text class="a" x="341.85" y="440.71" font-size="5.9" text-anchor="end">90</text>
<text class="a" x="341.85" y="449.2" font-size="5.9" text-anchor="end">85</text>
<text class="a" x="344.05" y="598.41" font-size="5.9" text-anchor="middle">0</text>
<text class="a" x="367.11" y="598.41" font-size="5.9" text-anchor="middle">20</text>
<text class="a" x="390.18" y="598.41" font-size="5.9" text-anchor="middle">40</text>
<text class="a" x="413.24" y="598.41" font-size="5.9" text-anchor="middle">60</text>
<text class="a" x="436.3" y="598.41" font-size="5.9" text-anchor="middle">80</text>
<text class="a" x="459.36" y="598.41" font-size="5.9" text-anchor="middle">100</text>
<text class="a" x="482.43" y="598.41" font-size="5.9" text-anchor="middle">120</text>
<text class="a" x="505.49" y="598.41" font-size="5.9" text-anchor="middle">140</text>
<text class="a" x="528.55" y="598.41" font-size="5.9" text-anchor="middle">160</text>
<text class="a" x="416" y="434" font-size="10">P<tspan dy="1.8" font-size="9.3">C</tspan></text>
<text class="a" x="435.8" y="434" font-size="10">–</text>
<text class="a" x="446" y="434" font-size="10">Tc</text>
<text class="s" x="391" y="607.6" font-size="8" textLength="70" lengthAdjust="spacingAndGlyphs">Case Temperature, Tc</text>
<text class="s" x="465" y="607.6" font-size="8">–</text>
<text class="s" x="473.2" y="607.6" font-size="8">°C</text>
<text class="s" x="508" y="607.8" font-size="5.9" textLength="19.8" lengthAdjust="spacingAndGlyphs" style="stroke:none;fill:#1c1c1c">IT02454</text>
<g transform="rotate(-90 323.5 565.5)">
<text class="s" x="323.5" y="565.5" font-size="8" textLength="66.4" lengthAdjust="spacingAndGlyphs">Collector Dissipation,</text>
<text class="s" x="392.9" y="565.5" font-size="8">P<tspan dy="2" font-size="7.6">C</tspan></text>
<text class="s" x="409.1" y="565.5" font-size="8">–</text>
<text class="s" x="417.7" y="565.5" font-size="8" textLength="6.6" lengthAdjust="spacingAndGlyphs">W</text>
</g>
</g>
</svg></body></html>
